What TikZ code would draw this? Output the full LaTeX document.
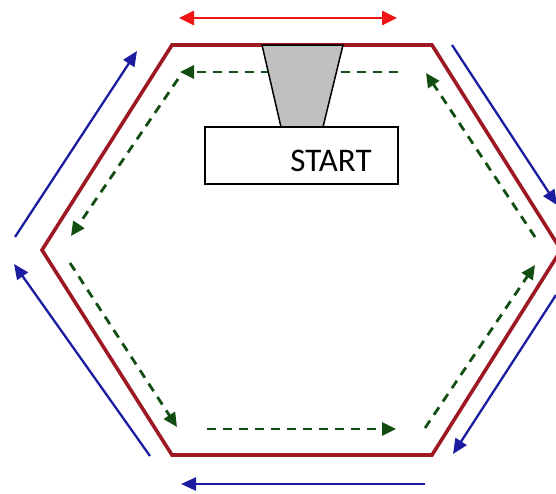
\documentclass[tikz,border=0pt]{standalone}
\usepackage{fontspec}
\setmainfont{Carlito}
\usetikzlibrary{arrows.meta}
\definecolor{hexred}{RGB}{158,24,36}
\definecolor{blu}{RGB}{28,28,160}
\definecolor{brightred}{RGB}{240,20,20}
\definecolor{dgreen}{RGB}{18,78,18}
\definecolor{trapgrey}{RGB}{192,192,192}
\tikzset{
  hexline/.style={draw=hexred, line width=3.6pt, line join=miter},
  bluearrow/.style={draw=blu, line width=2.3pt, -{Triangle[length=15pt,width=13pt]}},
  redarrow/.style={draw=brightred, line width=2.8pt, {Triangle[length=15pt,width=14pt]}-{Triangle[length=15pt,width=14pt]}},
  greenarrow/.style={draw=dgreen, line width=2.8pt, dash pattern=on 9pt off 7pt, -{Triangle[length=14pt,width=13pt]}},
  startbox/.style={draw=black, line width=1.5pt, fill=white, minimum width=193pt, minimum height=57pt, inner sep=0pt, outer sep=0pt},
}
\begin{document}
\begin{tikzpicture}[x=1pt,y=-1pt]
\useasboundingbox (0,0) rectangle (556,493);
\fill[white] (0,0) rectangle (556,493);
\clip (0,0) rectangle (556,493);
% hexagon vertices
\coordinate (tl) at (172,45);
\coordinate (tr) at (432,45);
\coordinate (r) at (561,250);
\coordinate (br) at (432,455);
\coordinate (bl) at (172,455);
\coordinate (l) at (42,250);
\draw[hexline] (tl) -- (tr) -- (r) -- (br) -- (bl) -- (l) -- cycle;
% green dashed arrows (inside)
\coordinate (g1s) at (398,72); \coordinate (g1e) at (180,72);
\coordinate (g2s) at (178,79); \coordinate (g2e) at (71,236);
\coordinate (g3s) at (70,263); \coordinate (g3e) at (177,427);
\coordinate (g4s) at (207,429); \coordinate (g4e) at (396,429);
\coordinate (g5s) at (425,428); \coordinate (g5e) at (535,265);
\coordinate (g6s) at (535,237); \coordinate (g6e) at (426,73);
\draw[greenarrow] (g1s) -- (g1e);
\draw[greenarrow] (g2s) -- (g2e);
\draw[greenarrow] (g3s) -- (g3e);
\draw[greenarrow] (g4s) -- (g4e);
\draw[greenarrow] (g5s) -- (g5e);
\draw[greenarrow] (g6s) -- (g6e);
% trapezoid and START box
\coordinate (ta) at (262,45);
\coordinate (tb) at (343,45);
\coordinate (tc) at (323,127);
\coordinate (td) at (281,127);
\draw[fill=trapgrey, draw=black, line width=1.5pt, line join=miter] (ta) -- (tb) -- (tc) -- (td) -- cycle;
\node[startbox] (start) at (301.5,155.5) {};
\node[font=\fontsize{33}{33}\selectfont, inner sep=0pt] (startlabel) at (331,161) {START};
% blue outer arrows
\coordinate (b1s) at (15,237); \coordinate (b1e) at (137,51);
\coordinate (b2s) at (452,45); \coordinate (b2e) at (557,205);
\coordinate (b3s) at (556,295); \coordinate (b3e) at (453,454);
\coordinate (b4s) at (425,484); \coordinate (b4e) at (181,484);
\coordinate (b5s) at (150,456); \coordinate (b5e) at (14,264);
\draw[bluearrow] (b1s) -- (b1e);
\draw[bluearrow] (b2s) -- (b2e);
\draw[bluearrow] (b3s) -- (b3e);
\draw[bluearrow] (b4s) -- (b4e);
\draw[bluearrow] (b5s) -- (b5e);
% red double arrow
\coordinate (rl) at (179,18); \coordinate (rr) at (397,18);
\draw[redarrow] (rl) -- (rr);
\end{tikzpicture}
\end{document}
